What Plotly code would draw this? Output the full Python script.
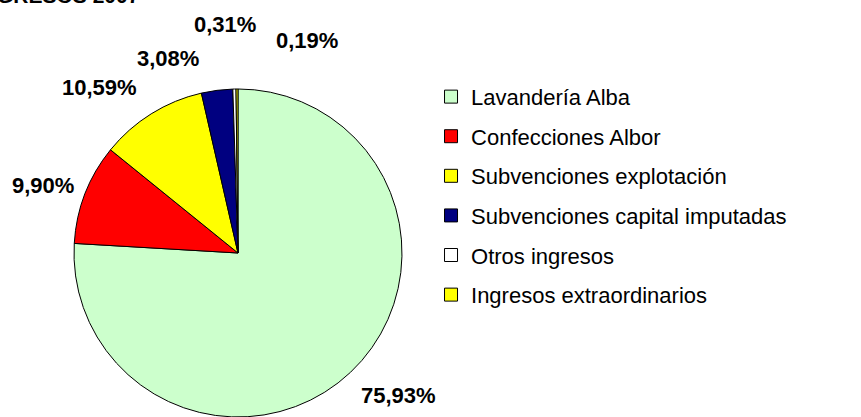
import math
import plotly.graph_objects as go

labels = ["Lavandería Alba", "Confecciones Albor", "Subvenciones explotación",
          "Subvenciones capital imputadas", "Otros ingresos", "Ingresos extraordinarios"]
values = [75.93, 9.90, 10.59, 3.08, 0.31, 0.19]
colors = ["#CCFFCC", "#FF0000", "#FFFF00", "#000080", "#FFFFFF", "#FFFF00"]
title_text = "INGRESOS 2007"

FONT = "Liberation Sans, Arial, sans-serif"
W, H = 861, 417
dom_x = [0.0836, 0.4692]
dom_y = [0.0, 0.7866]

text_labels = [f"{v:.2f}%".replace(".", ",") for v in values]

fig = go.Figure()
fig.add_trace(go.Pie(
    labels=labels, values=values, textinfo="none",
    sort=False, direction="clockwise", rotation=0,
    marker=dict(colors=colors, line=dict(color="black", width=1)),
    domain=dict(x=dom_x, y=dom_y),
    showlegend=False, hoverinfo="label+percent",
))

# legend entries (one group each so the row spacing can be set)
for i, (lab, col) in enumerate(zip(labels, colors)):
    fig.add_trace(go.Scatter(
        x=[None], y=[None], mode="markers", name=lab, legendgroup=f"g{i}",
        marker=dict(symbol="square", size=13, color=col, line=dict(color="black", width=1)),
        showlegend=True, hoverinfo="skip",
    ))

# percentage labels placed outside the slices, from the pie geometry
cx = (dom_x[0] + dom_x[1]) / 2 * W
cy = H - (dom_y[0] + dom_y[1]) / 2 * H
R = min((dom_x[1] - dom_x[0]) * W, (dom_y[1] - dom_y[0]) * H) / 2
gap = 12
nudge = {1: (2, -4), 2: (-6, -2), 3: (-14, -5), 4: (-9, -38), 5: (70, -22)}  # crowded labels moved (px)
total = sum(values)
cum = 0.0
for i, (v, t) in enumerate(zip(values, text_labels)):
    mid = (cum + v / 2) / total * 2 * math.pi
    cum += v
    ux, uy = math.sin(mid), -math.cos(mid)
    px = cx + (R + gap) * ux
    py = cy + (R + gap) * uy
    xa = "left" if ux > 0.05 else ("right" if ux < -0.05 else "center")
    ya = "top" if uy > 0.5 else ("bottom" if uy < -0.5 else "middle")
    dx, dy = nudge.get(i, (0, 0))
    fig.add_annotation(
        text=f"<b>{t}</b>", xref="paper", yref="paper", x=px / W, y=1 - py / H,
        xanchor=xa, yanchor=ya, xshift=dx, yshift=-dy, showarrow=False,
        font=dict(family=FONT, size=22, color="black"),
    )

fig.add_annotation(
    text=f"<b>{title_text}</b>", xref="paper", yref="paper", x=0, y=1,
    xanchor="left", yanchor="bottom", xshift=-26, yshift=-9, showarrow=False,
    font=dict(family=FONT, size=21, color="black"),
)

fig.update_layout(
    width=W, height=H,
    margin=dict(l=0, r=0, t=0, b=0),
    paper_bgcolor="white", plot_bgcolor="white",
    xaxis=dict(visible=False, domain=[0.5, 1]), yaxis=dict(visible=False),
    font=dict(family=FONT, size=22, color="black"),
    legend=dict(x=0.5006, y=0.8182, xanchor="left", yanchor="top",
                tracegroupgap=8, itemsizing="trace",
                font=dict(family=FONT, size=22, color="black"),
                bgcolor="rgba(0,0,0,0)"),
)

fig.write_html("out.html", config={"displayModeBar": False},
               post_script="document.body.style.margin='0px';")
